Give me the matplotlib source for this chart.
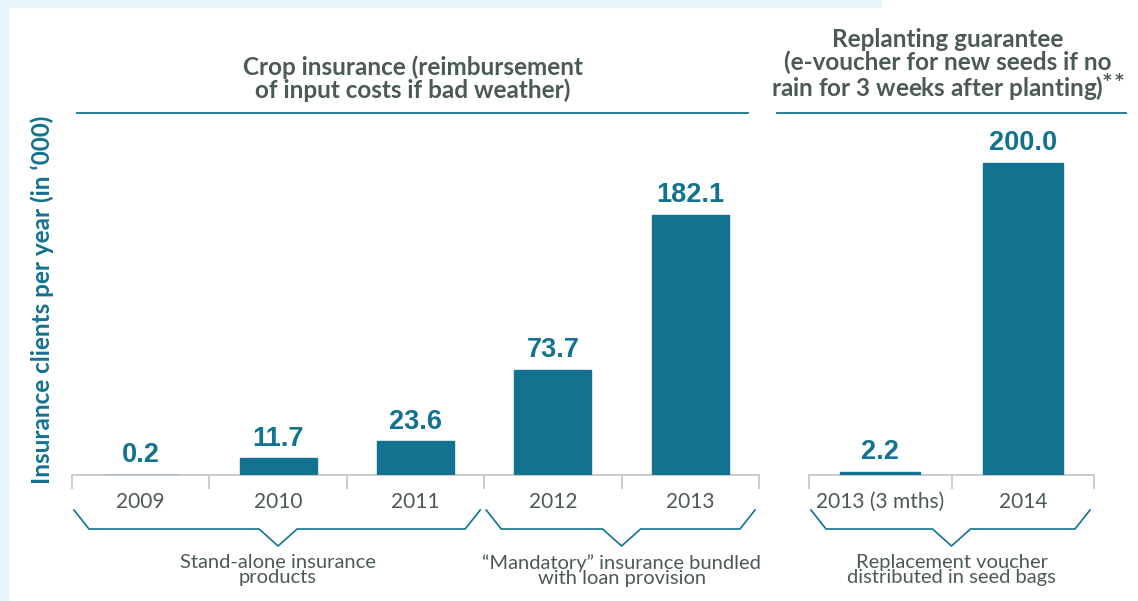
import matplotlib.pyplot as plt
from matplotlib.patches import Rectangle
from matplotlib.lines import Line2D
from matplotlib.transforms import blended_transform_factory

# Insurance clients per year (thousands)
crop_years = ['2009', '2010', '2011', '2012', '2013']
crop_clients = [0.2, 11.7, 23.6, 73.7, 182.1]
replant_years = ['2013 (3 mths)', '2014']
replant_clients = [2.2, 200.0]

crop_title = 'Crop insurance (reimbursement\nof input costs if bad weather)'
replant_title = ('Replanting guarantee\n(e-voucher for new seeds if no\n'
                 'rain for 3 weeks after planting)$^{**}$')
crop_groups = [(0, 2, 'Stand-alone insurance\nproducts'),
               (3, 4, '\u201cMandatory\u201d insurance bundled\nwith loan provision')]
replant_groups = [(0, 1, 'Replacement voucher\ndistributed in seed bags')]

TEAL = '#13728f'
GREY_TXT = '#4b5a53'
W, H = 1138, 601

plt.rcParams['font.family'] = ['Lato', 'DejaVu Sans']
plt.rcParams['mathtext.default'] = 'bf'

fig = plt.figure(figsize=(W / 100, H / 100), dpi=100)

# light blue frame strips
fig.patches.append(Rectangle((0, 1 - 7 / H), 881 / W, 7 / H, transform=fig.transFigure,
                             color='#e8f5fc', zorder=0))
fig.patches.append(Rectangle((0, 0), 8 / W, 1, transform=fig.transFigure,
                             color='#e8f5fc', zorder=0))

base_y = 475
top_y = 113
ax_h = (base_y - top_y) / H


def draw_panel(left_px, right_px, cats, vals, ymax, groups):
    ax = fig.add_axes([left_px / W, (H - base_y) / H, (right_px - left_px) / W, ax_h])
    x = list(range(len(cats)))
    ax.bar(x, vals, width=0.56, color=TEAL, edgecolor=TEAL, linewidth=1.0, zorder=3)
    for xi, v in zip(x, vals):
        ax.annotate(f'{v:.1f}', (xi, v), xytext=(0, 9), textcoords='offset points',
                    ha='center', va='baseline', fontsize=19.5, fontweight='bold',
                    color=TEAL, family='Liberation Sans')
    ax.set_xlim(-0.5, len(cats) - 0.5)
    ax.set_ylim(0, ymax)
    ax.set_yticks([])
    ax.set_xticks(x)
    ax.set_xticklabels(cats, fontsize=15, color=GREY_TXT)
    ax.set_xticks([i - 0.5 for i in range(len(cats) + 1)], minor=True)
    ax.tick_params(axis='x', which='major', length=0, pad=12)
    ax.tick_params(axis='x', which='minor', length=10, width=1.3, color='#c8c8c8')
    for s in ['left', 'right', 'top']:
        ax.spines[s].set_visible(False)
    ax.spines['bottom'].set_color('#c8c8c8')
    ax.spines['bottom'].set_linewidth(1.3)
    ax.spines['bottom'].set_zorder(1)
    ax.patch.set_alpha(0)

    # braces under the category groups
    tr = blended_transform_factory(ax.transData, ax.transAxes)
    ppx = (right_px - left_px) / len(cats)
    y_top = (base_y - 510) / (base_y - top_y)
    y_mid = (base_y - 529) / (base_y - top_y)
    y_tip = (base_y - 546) / (base_y - top_y)
    for g0, g1, label in groups:
        x0 = g0 - 0.5 + 2 / ppx
        x1 = g1 + 0.5 - 4 / ppx
        xc = (g0 + g1) / 2
        ins = 15 / ppx
        vw = 19 / ppx
        xs = [x0, x0 + ins, xc - vw, xc, xc + vw, x1 - ins, x1]
        ys = [y_top, y_mid, y_mid, y_tip, y_mid, y_mid, y_top]
        ax.add_line(Line2D(xs, ys, transform=tr, color=TEAL, lw=1.2, clip_on=False))
        ax.text(xc, (base_y - 554) / (base_y - top_y), label, transform=tr,
                ha='center', va='top', fontsize=14.5, color=GREY_TXT, linespacing=0.88)
    return ax


ax1 = draw_panel(72, 759, crop_years, crop_clients, (base_y - top_y) / 1.43, crop_groups)
ax2 = draw_panel(809, 1094, replant_years, replant_clients, (base_y - top_y) / 1.56,
                 replant_groups)

# section headers and rules
fig.add_artist(Line2D([77 / W, 748 / W], [1 - top_y / H] * 2, color=TEAL, lw=1.3))
fig.add_artist(Line2D([777 / W, 1126 / W], [1 - top_y / H] * 2, color=TEAL, lw=1.3))
fig.text(413 / W, 1 - 98 / H, crop_title, ha='center', va='baseline', fontsize=17.5,
         fontweight='bold', color=GREY_TXT, linespacing=0.98)
fig.text(948 / W, 1 - 98 / H, replant_title, ha='center', va='baseline', fontsize=17.5,
         fontweight='bold', color=GREY_TXT, linespacing=0.98)

fig.text(42 / W, 1 - 300 / H, 'Insurance clients per year (in \u2018000)', rotation=90,
         ha='center', va='center', fontsize=17.5, fontweight='bold', color=TEAL)

fig.savefig('out.png', dpi=100, facecolor='white')
